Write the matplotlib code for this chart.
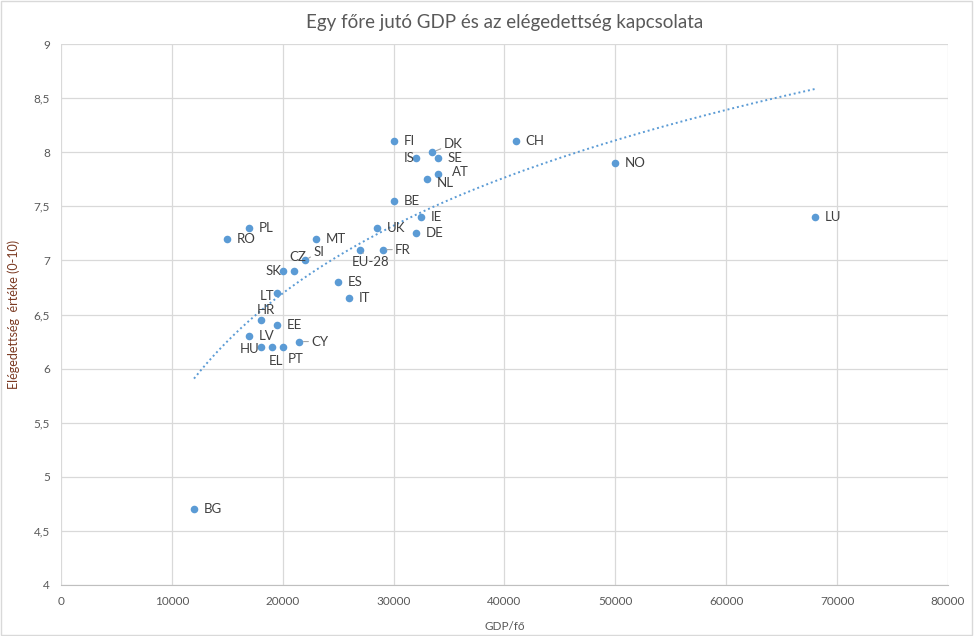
import numpy as np
import matplotlib
matplotlib.use("Agg")
import matplotlib.pyplot as plt

plt.rcParams['font.family'] = ['Lato', 'DejaVu Sans']

# ── Adatok ────────────────────────────────────────────────
countries = ["BG", "RO", "PL", "FI", "DK", "IS", "SE", "AT", "NL", "CH", "NO", "LU",
             "BE", "IE", "UK", "DE", "MT", "EU-28", "FR", "SI", "CZ", "SK", "ES", "IT",
             "LT", "HR", "EE", "LV", "HU", "EL", "PT", "CY"]
gdp = [12000, 15000, 17000, 30000, 33500, 32000, 34000, 34000, 33000, 41000, 50000, 68000,
       30000, 32500, 28500, 32000, 23000, 27000, 29000, 22000, 21000, 20000, 25000, 26000,
       19500, 18000, 19500, 17000, 18000, 19000, 20000, 21500]
satisf = [4.7, 7.2, 7.3, 8.1, 8.0, 7.95, 7.95, 7.8, 7.75, 8.1, 7.9, 7.4,
          7.55, 7.4, 7.3, 7.25, 7.2, 7.1, 7.1, 7.0, 6.9, 6.9, 6.8, 6.65,
          6.7, 6.45, 6.4, 6.3, 6.2, 6.2, 6.2, 6.25]

# címke eltolások (pont): dx, dy, igazítás
offsets = {"IS": (-1, 0, "right"), "NL": (7, -2.5, "left"), "AT": (10, 1, "left"),
           "SK": (-1, 0, "right"), "CZ": (-3, 10, "left"), "SI": (6, 6, "left"),
           "LT": (-2, -2, "right"), "HR": (-3, 7, "left"), "HU": (-1, -1.5, "right"),
           "EL": (-2, -10, "left"), "PT": (3.5, -8.5, "left"), "EU-28": (-6.5, -9, "left"),
           "FR": (9, 0, "left"), "DK": (8, 6, "left"), "CY": (8.5, 0, "left")}
leaders = {"DK", "SI", "EU-28", "FR", "CY"}

blue = "#5B9BD5"
txt = "#404040"

fig = plt.figure(figsize=(9.74, 6.36), dpi=100)
ax = fig.add_axes([0.0626, 0.0802, 0.9107, 0.8506])

ax.scatter(gdp, satisf, s=30, color=blue, zorder=3, linewidths=0)

# logaritmikus trendvonal
x = np.array(gdp, dtype=float)
a, b = np.polyfit(np.log(x), np.array(satisf), 1)
xt = np.linspace(x.min(), x.max(), 300)
ax.plot(xt, a * np.log(xt) + b, color=blue, linestyle=(0, (1, 1.5)), linewidth=1.4, zorder=2)

for c, xv, yv in zip(countries, gdp, satisf):
    dx, dy, ha = offsets.get(c, (7, 0, "left"))
    arrow = None
    if c in leaders:
        arrow = dict(arrowstyle="-", color="#A6A6A6", lw=0.8, shrinkA=0, shrinkB=3)
    ax.annotate(c, (xv, yv), xytext=(dx, dy), textcoords="offset points",
                fontsize=9.5, color=txt, va="center", ha=ha, arrowprops=arrow)

ax.set_xlim(0, 80000)
ax.set_ylim(4, 9)
ax.set_xticks(np.arange(0, 80001, 10000))
ax.set_yticks(np.arange(4, 9.01, 0.5))
ax.set_yticklabels([f"{v:g}".replace(".", ",") for v in np.arange(4, 9.01, 0.5)])
ax.grid(True, color="#D9D9D9", linewidth=0.9)
ax.set_axisbelow(True)
for s in ["top", "right", "left"]:
    ax.spines[s].set_visible(False)
ax.spines["bottom"].set_color("#BFBFBF")
ax.tick_params(length=0, labelsize=8.5, colors="#595959", pad=8)

ax.set_xlabel("GDP/fő", fontsize=8.5, color="#595959", labelpad=10)
ax.set_ylabel("Elégedettség  értéke (0-10)", fontsize=9, color="#7B3A22", labelpad=10)
ax.set_title("Egy főre jutó GDP és az elégedettség kapcsolata", fontsize=13.5,
             color="#595959", pad=11.5)

fig.patches.append(plt.Rectangle((0.001, 0.001), 0.997, 0.997, transform=fig.transFigure,
                                 fill=False, edgecolor="#D9D9D9", linewidth=1))

plt.savefig("out.png", dpi=100)
